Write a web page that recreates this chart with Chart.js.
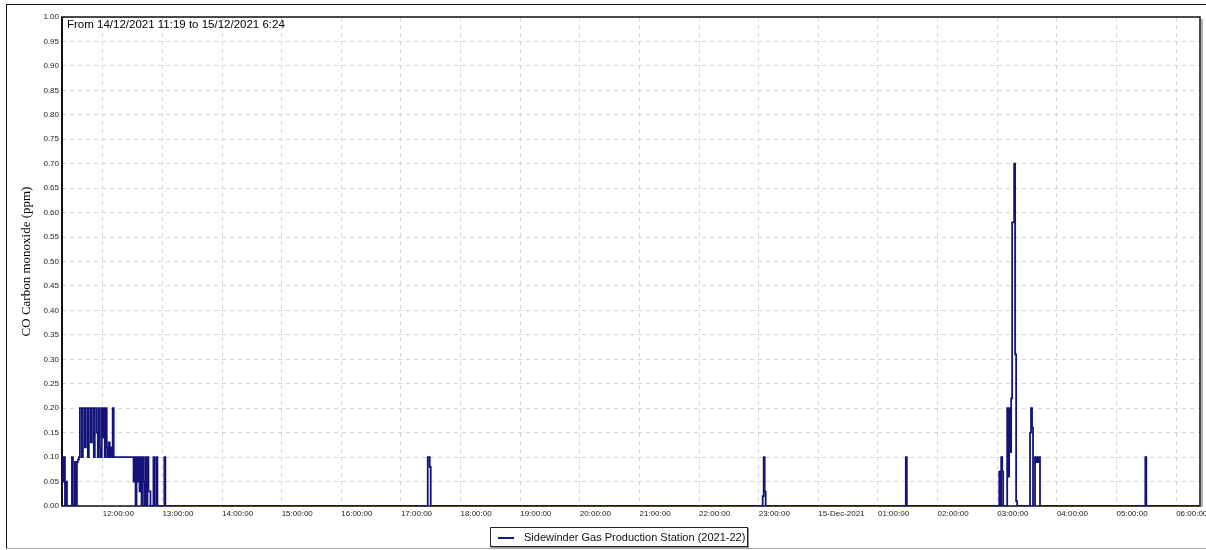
<!DOCTYPE html>
<html lang="en">
<head>
<meta charset="UTF-8">
<title>CO Carbon monoxide</title>
<script src="https://cdn.jsdelivr.net/npm/chart.js"></script>
<style>
  html, body { margin: 0; padding: 0; background: #fff; }
  #wrap { position: relative; width: 1206px; height: 550px; overflow: hidden; }
  #frame { position: absolute; left: 6px; top: 4px; width: 1210px; height: 543px;
           border-left: 1.5px solid #111; border-top: 1.5px solid #111; border-bottom: 1px solid #aaa; }
  #range { position: absolute; left: 67px; top: 18px; line-height: 13px;
           font: 11.5px 'Liberation Sans', Arial, sans-serif; color: #000; }
  #legend { position: absolute; left: 490px; top: 527px; width: 256px; height: 18px;
            border: 1px solid #222; box-shadow: 1px 1px 0 #999;
            font: 11px 'Liberation Sans', Arial, sans-serif; line-height: 18px; color: #111; white-space: nowrap; }
  #legend .swatch { display: inline-block; width: 16px; height: 2px; background: #161680;
                    vertical-align: middle; margin: 0 10px 0 7px; }
  #box { position: absolute; left: 0; top: 0; width: 1206px; height: 550px; }
</style>
</head>
<body>
<div id="wrap">
  <div id="frame"></div>
  <div id="box"><canvas id="coChart"></canvas></div>
  <div id="range">From 14/12/2021 11:19 to 15/12/2021 6:24</div>
  <div id="legend"><span class="swatch"></span>Sidewinder Gas Production Station (2021-22)</div>
</div>

<script>
// minutes after 14/12/2021 11:19, value holds until next sample
const minutes = [
  0, 1, 2, 3, 4, 5, 10, 11, 13, 14, 15, 16, 17, 18, 20, 21, 23, 24, 26, 27, 29, 30,
  32, 33, 35, 36, 37, 38, 39, 40, 41, 42, 43, 44, 45, 46, 47, 48, 49, 50, 51, 52,
  72, 73, 74, 75, 76, 77, 78, 79, 80, 81, 82, 83, 84, 85, 86, 87, 89, 92, 93, 95, 96, 103, 104,
  368, 370, 371,
  705, 706, 707, 708,
  849, 850,
  943, 944, 945, 946, 947, 951, 952, 953, 954, 955, 956, 958, 959, 960, 961,
  974, 975, 976, 977, 979, 980, 981, 982, 983, 984,
  1090, 1091, 1145
];
const ppm = [
  0.10, 0.05, 0.10, 0.00, 0.05, 0.00, 0.10, 0.00, 0.09, 0.00, 0.09, 0.095, 0.10, 0.20, 0.10, 0.20, 0.12, 0.20, 0.10, 0.20, 0.13, 0.20,
  0.10, 0.20, 0.15, 0.10, 0.20, 0.12, 0.10, 0.20, 0.14, 0.20, 0.10, 0.20, 0.12, 0.10, 0.13, 0.10, 0.12, 0.10, 0.20, 0.10,
  0.05, 0.10, 0.00, 0.10, 0.05, 0.10, 0.03, 0.10, 0.00, 0.10, 0.05, 0.00, 0.10, 0.00, 0.10, 0.03, 0.00, 0.10, 0.00, 0.10, 0.00, 0.10, 0.00,
  0.10, 0.08, 0.00,
  0.02, 0.10, 0.03, 0.00,
  0.10, 0.00,
  0.07, 0.00, 0.10, 0.07, 0.00, 0.20, 0.06, 0.20, 0.11, 0.22, 0.58, 0.70, 0.31, 0.01, 0.00,
  0.15, 0.20, 0.16, 0.00, 0.10, 0.09, 0.10, 0.09, 0.10, 0.00,
  0.10, 0.00, 0.00
];

const tickMinutes = [41, 101, 161, 221, 281, 341, 401, 461, 521, 581, 641, 701, 761, 821, 881, 941, 1001, 1061, 1121];
const tickLabels = ['12:00:00', '13:00:00', '14:00:00', '15:00:00', '16:00:00', '17:00:00', '18:00:00',
  '19:00:00', '20:00:00', '21:00:00', '22:00:00', '23:00:00', '15-Dec-2021', '01:00:00',
  '02:00:00', '03:00:00', '04:00:00', '05:00:00', '06:00:00'];

const tickFont = { family: "'Liberation Sans', Arial, sans-serif", size: 8 };

// plot frame, drawn under the line so zero readings sit on the bottom edge
const framePlugin = {
  id: 'frame',
  beforeDatasetsDraw(chart) {
    const { ctx, chartArea: a } = chart;
    ctx.save();
    ctx.strokeStyle = '#999';
    ctx.lineWidth = 1.5;
    ctx.beginPath();
    ctx.moveTo(a.right + 2, a.top + 2);
    ctx.lineTo(a.right + 2, a.bottom + 1);
    ctx.stroke();
    ctx.strokeStyle = '#111';
    ctx.lineWidth = 1.5;
    ctx.strokeRect(a.left, a.top, a.right - a.left, a.bottom - a.top);
    ctx.lineWidth = 2;
    ctx.beginPath();
    ctx.moveTo(a.left, a.top);
    ctx.lineTo(a.left, a.bottom);
    ctx.stroke();
    ctx.restore();
  }
};

const ctx = document.getElementById('coChart').getContext('2d');
new Chart(ctx, {
  type: 'line',
  data: {
    datasets: [{
      label: 'Sidewinder Gas Production Station (2021-22)',
      data: minutes.map((m, i) => ({ x: m, y: ppm[i] })),
      borderColor: '#141478',
      borderWidth: 1.8,
      pointRadius: 0,
      stepped: true,
      fill: false
    }]
  },
  options: {
    responsive: true,
    maintainAspectRatio: false,
    animation: false,
    layout: { padding: { left: 0, top: 17, right: 6, bottom: 0 } },
    plugins: {
      legend: { display: false },
      tooltip: { enabled: false }
    },
    scales: {
      x: {
        type: 'linear',
        min: 0,
        max: 1145,
        afterBuildTicks: s => { s.ticks = tickMinutes.map(v => ({ value: v })); },
        afterFit: s => { s.height = 44; s.paddingLeft = 0; s.paddingRight = 0; },
        ticks: {
          align: 'start',
          autoSkip: false,
          maxRotation: 0,
          padding: 3,
          font: tickFont,
          color: '#222',
          callback: (v, i) => tickLabels[i]
        },
        grid: { color: '#d4d4d4', drawTicks: false },
        border: { display: false, dash: [4, 4] }
      },
      y: {
        min: 0,
        max: 1,
        afterFit: s => { s.width = 62; s.paddingTop = 0; s.paddingBottom = 0; },
        ticks: {
          stepSize: 0.05,
          padding: 3,
          font: tickFont,
          color: '#222',
          callback: v => v.toFixed(2)
        },
        title: {
          display: true,
          text: 'CO Carbon monoxide (ppm)',
          color: '#000',
          font: { family: "'Liberation Serif', 'Times New Roman', serif", size: 13 },
          padding: { top: 19, bottom: 0 }
        },
        grid: { color: '#d4d4d4', drawTicks: false },
        border: { display: false, dash: [4, 4] }
      }
    }
  },
  plugins: [framePlugin]
});
</script>
</body>
</html>
